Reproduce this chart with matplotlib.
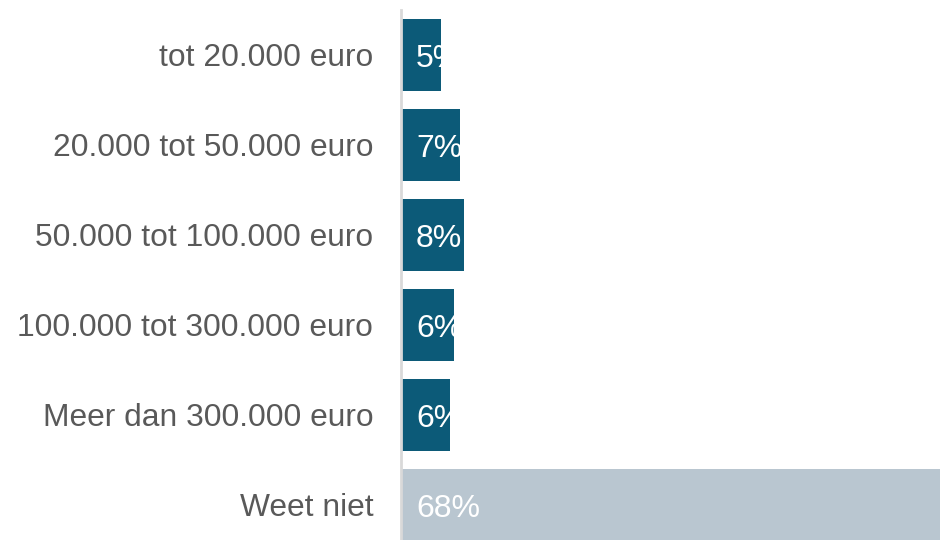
import matplotlib.pyplot as plt
from matplotlib.transforms import offset_copy

plt.rcParams['font.family'] = ['Liberation Sans', 'DejaVu Sans']

categories = ['tot 20.000 euro', '20.000 tot 50.000 euro', '50.000 tot 100.000 euro',
              '100.000 tot 300.000 euro', 'Meer dan 300.000 euro', 'Weet niet']
values = [4.9, 7.2, 7.6, 6.4, 5.9, 68.0]
colors = ['#0c5a78'] * 5 + ['#b9c6d0']

fig = plt.figure(figsize=(9.4, 5.4), dpi=100)
# axes starts at the bar origin and runs past the right edge, like the source crop
ax = fig.add_axes([401 / 940, -10 / 540, 539 / 940, 1.0])

pos = list(range(len(categories)))
ax.barh(pos, values, height=0.8, color=colors)
ax.set_xlim(0, 539 / 8.25)
ax.set_ylim(len(categories) - 0.5, -0.5)

ax.set_yticks(pos)
ax.set_yticklabels(categories, fontsize=22.9, color='#595959')
ax.tick_params(axis='y', length=0, pad=20)
ax.set_xticks([])

for s in ['top', 'right', 'bottom']:
    ax.spines[s].set_visible(False)
ax.spines['left'].set_color('#d9d9d9')
ax.spines['left'].set_linewidth(2)

trans = offset_copy(ax.transData, fig=fig, x=15, y=-4, units='dots')
for i, v in enumerate(values):
    ax.text(0, i, f'{round(v)}%', transform=trans, color='white', fontsize=23,
            ha='left', va='center', clip_on=True)

fig.savefig('out.png', dpi=100)
